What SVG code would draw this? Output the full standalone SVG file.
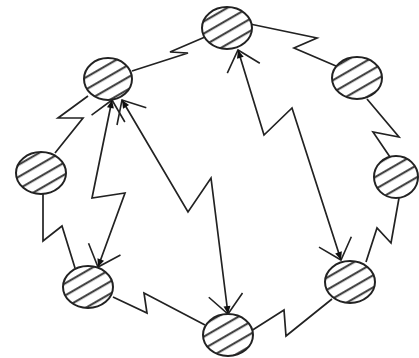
<svg xmlns="http://www.w3.org/2000/svg" width="419" height="358" viewBox="0 0 419 358">
<defs>
<pattern id="hatch" width="10.5" height="10.5" patternUnits="userSpaceOnUse" patternTransform="rotate(-30)">
<rect width="10.5" height="10.5" fill="#fff"/>
<line x1="0" y1="5" x2="10.5" y2="5" stroke="#333" stroke-width="2"/>
</pattern>
<marker id="arr" viewBox="-24 -22 28 44" markerWidth="28" markerHeight="44" refX="0" refY="0" markerUnits="userSpaceOnUse" orient="auto-start-reverse">
<path d="M-19 -17 L0 0 L-19 17" fill="none" stroke="#222" stroke-width="1.6"/>
<path d="M0 0 L-8 -3.5 L-8 3.5 Z" fill="#111"/>
</marker>
<style>
.node ellipse{fill:url(#hatch);stroke:#222;stroke-width:2}
.e{fill:none;stroke:#222;stroke-width:1.7;stroke-linejoin:miter}
.a{marker-start:url(#arr);marker-end:url(#arr)}
</style>
</defs>
<rect width="419" height="358" fill="#fff"/>
<g id="connectors">
<polyline class="e" points="132,71 188,53 170,52 205,37"/>
<polyline class="e" points="250,24 317,38 294,48 336,66"/>
<polyline class="e" points="367,99 399,137 373,132 390,157"/>
<polyline class="e" points="399,198 391,243 377,228 366,262"/>
<polyline class="e" points="332,299 286,336 284,310 251,331"/>
<polyline class="e" points="113,297 147,313 144,293 205,325"/>
<polyline class="e" points="43,194 43,241 62,226 75,268"/>
<polyline class="e" points="55,153 83,118 58,118 88,96"/>
<polyline class="e a" points="112,100 92,198 125,193 98,267"/>
<polyline class="e a" points="122,100 188,212 211,178 228,314"/>
<polyline class="e a" points="238,50 264,135 292,108 341,260"/>
</g>
<g id="n-top" class="node"><ellipse cx="227" cy="28" rx="25" ry="21"/></g>
<g id="n-ul" class="node"><ellipse cx="108" cy="79" rx="24" ry="21"/></g>
<g id="n-ur" class="node"><ellipse cx="357" cy="78" rx="25" ry="21"/></g>
<g id="n-l" class="node"><ellipse cx="41" cy="173" rx="25" ry="21"/></g>
<g id="n-r" class="node"><ellipse cx="396" cy="177" rx="22" ry="21"/></g>
<g id="n-bl" class="node"><ellipse cx="88" cy="287" rx="25" ry="21"/></g>
<g id="n-br" class="node"><ellipse cx="350" cy="282" rx="25" ry="21"/></g>
<g id="n-b" class="node"><ellipse cx="228" cy="335" rx="25" ry="21"/></g>
</svg>
